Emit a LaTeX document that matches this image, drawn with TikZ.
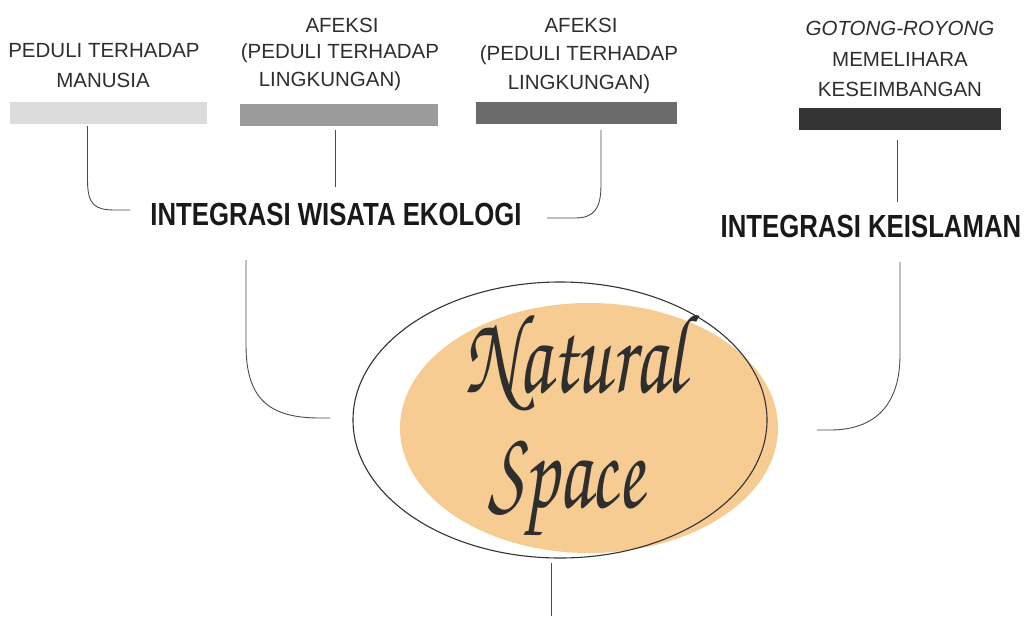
\documentclass[tikz,border=0pt]{standalone}
\usepackage{fontspec}
\setmainfont{Liberation Sans}
\newfontfamily\handfont{Liberation Sans}
\newfontfamily\headfont[FakeStretch=0.805]{Liberation Sans}
\newfontfamily\chorusfont{texgyrechorus-mediumitalic.otf}
\definecolor{ink}{HTML}{2E2E2E}
\definecolor{barA}{HTML}{DCDCDC}
\definecolor{barB}{HTML}{9B9B9B}
\definecolor{barC}{HTML}{6B6B6B}
\definecolor{barD}{HTML}{333333}
\definecolor{peach}{HTML}{F6CC92}
\newcommand{\titletext}[1]{\scalebox{0.92}[1.35]{#1}}
\tikzset{
  lbl/.style={anchor=base, inner sep=0pt, text=ink, font=\handfont\fontsize{20.5}{24}\selectfont},
  head/.style={anchor=base, inner sep=0pt, text=black!90, font=\headfont\bfseries\fontsize{32}{36}\selectfont},
  swatch/.style={draw=none, inner sep=0pt, minimum width=#1, minimum height=22pt},
  link/.style={draw=black!70, line width=0.9pt},
  title/.style={anchor=base, inner sep=0pt, text=ink, font=\chorusfont\fontsize{84}{90}\selectfont}
}
\begin{document}
\begin{tikzpicture}[x=1pt,y=-1pt]
\useasboundingbox (0,0) rectangle (1028,616);
\fill[white] (0,0) rectangle (1028,616);

% value labels
\node[lbl] (p1a) at (104,57) {PEDULI TERHADAP};
\node[lbl] (p1b) at (103,87) {MANUSIA};
\node[lbl] (p2a) at (342,32) {AFEKSI};
\node[lbl] (p2b) at (340,58) {(PEDULI TERHADAP};
\node[lbl] (p2c) at (330,86) {LINGKUNGAN)};
\node[lbl] (p3a) at (581,32) {AFEKSI};
\node[lbl] (p3b) at (579,60) {(PEDULI TERHADAP};
\node[lbl] (p3c) at (579,89) {LINGKUNGAN)};
\node[lbl,font=\handfont\itshape\fontsize{20.5}{24}\selectfont] (p4a) at (900,35) {GOTONG-ROYONG};
\node[lbl] (p4b) at (900,66) {MEMELIHARA};
\node[lbl] (p4c) at (900,96) {KESEIMBANGAN};

% colour swatches
\node[swatch=197pt, fill=barA] (b1) at (108.5,113) {};
\node[swatch=198pt, fill=barB] (b2) at (339,114.5) {};
\node[swatch=201pt, fill=barC] (b3) at (576.5,112.5) {};
\node[swatch=202pt, fill=barD] (b4) at (900,119) {};

% integration headings
\node[head] (eko) at (336,225) {INTEGRASI WISATA EKOLOGI};
\node[head] (isl) at (871,237) {INTEGRASI KEISLAMAN};

% central ellipse
\fill[peach] (589,428) ellipse [x radius=189pt, y radius=125pt];
\draw[black!80, line width=1.1pt] (560,420) ellipse [x radius=207pt, y radius=138pt];
\node[title] (nat) at (575,392) {\titletext{Natural}};
\node[title] (spc) at (566,507) {\titletext{Space}};

% connector end points
\coordinate (c1a) at (87.5,126);
\coordinate (c1b) at (130,210);
\coordinate (c2a) at (335,130);
\coordinate (c2b) at (335,187);
\coordinate (c3a) at (601,130);
\coordinate (c3b) at (547,218);
\coordinate (c4a) at (897,140);
\coordinate (c4b) at (897,202);
\coordinate (c5a) at (246,260);
\coordinate (c5b) at (330,418);
\coordinate (c6a) at (900,262);
\coordinate (c6b) at (817,430);
\coordinate (c7a) at (551,563);
\coordinate (c7b) at (551,616);

% connectors
\draw[link] (c1a) -- (87.5,180) .. controls (87.5,205) and (95,210) .. (115,210) -- (c1b);
\draw[link] (c2a) -- (c2b);
\draw[link] (c3a) -- (601,185) .. controls (601,210) and (593,218) .. (575,218) -- (c3b);
\draw[link] (c4a) -- (c4b);
\draw[link] (c5a) -- (246,345) .. controls (246,400) and (270,418) .. (320,418) -- (c5b);
\draw[link] (c6a) -- (900,355) .. controls (900,405) and (875,430) .. (830,430) -- (c6b);
\draw[link] (c7a) -- (c7b);
\end{tikzpicture}
\end{document}
